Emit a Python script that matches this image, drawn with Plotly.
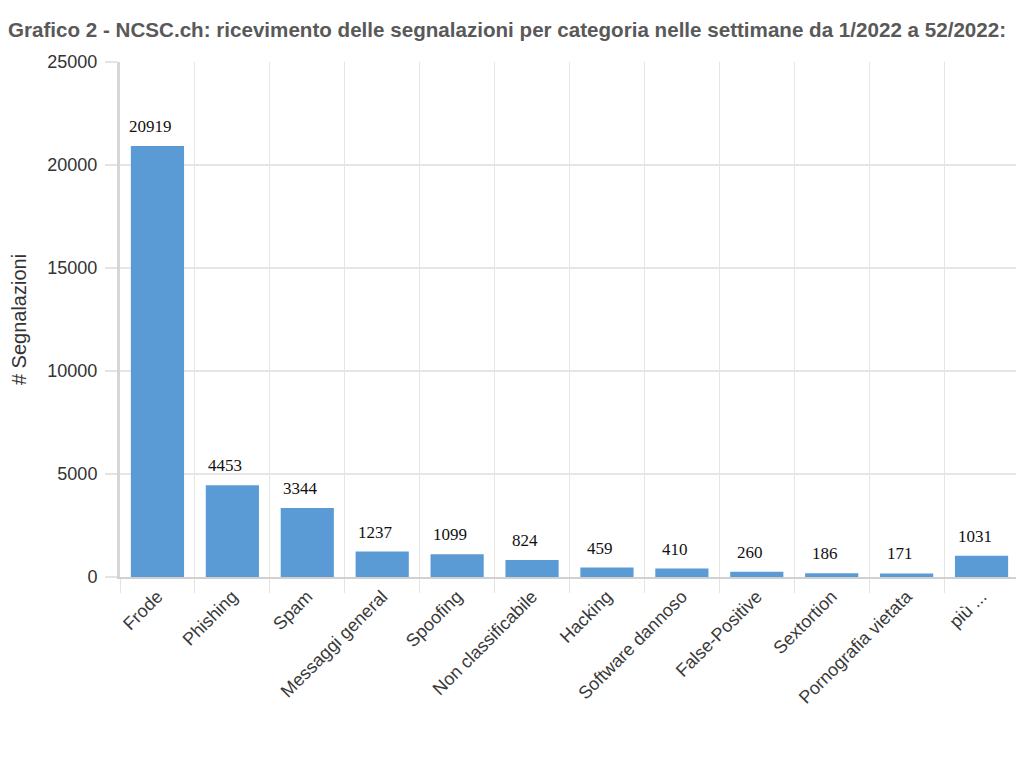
import plotly.graph_objects as go

# Categorie e numero di segnalazioni (settimane 1/2022 - 52/2022)
categorie = ["Frode", "Phishing", "Spam", "Messaggi general", "Spoofing",
             "Non classificabile", "Hacking", "Software dannoso", "False-Positive",
             "Sextortion", "Pornografia vietata", "più ..."]
segnalazioni = [20919, 4453, 3344, 1237, 1099, 824, 459, 410, 260, 186, 171, 1031]

y_ticks = [0, 5000, 10000, 15000, 20000, 25000]

fig = go.Figure(go.Bar(
    x=categorie,
    y=segnalazioni,
    marker=dict(color="#5B9BD5", line=dict(width=0)),
))

# etichette dei valori sopra le barre
for cat, val in zip(categorie, segnalazioni):
    fig.add_annotation(
        x=cat, y=val, text=str(val), showarrow=False,
        yanchor="bottom", yshift=8, xshift=-7,
        font=dict(family="Liberation Serif", size=17, color="#111"),
    )

fig.update_layout(
    width=1016, height=761,
    paper_bgcolor="white", plot_bgcolor="white",
    margin=dict(l=112, r=5, t=54, b=192, autoexpand=False),
    bargap=0.29,
    showlegend=False,
    title=dict(
        text="<b>Grafico 2 - NCSC.ch: ricevimento delle segnalazioni per categoria nelle settimane da 1/2022 a 52/2022:</b>",
        x=0, xanchor="left", y=0.971, yanchor="middle",
        font=dict(family="Liberation Sans", size=20.6, color="#595959"),
    ),
    font=dict(family="Liberation Sans", color="#333"),
)

fig.update_xaxes(
    tickangle=-45,
    tickson="boundaries",
    ticks="outside", ticklen=14, tickcolor="#e3e3e3", tickwidth=1,
    showgrid=True, gridcolor="#e6e6e6", gridwidth=1,
    showline=True, linecolor="#d0d0d0", linewidth=2,
    tickfont=dict(size=18, color="#3a3a3a"),
    automargin=False,
)

fig.update_yaxes(
    range=[0, 25000],
    tickvals=y_ticks,
    ticktext=[str(t) for t in y_ticks],
    ticks="outside", ticklen=12, tickcolor="#e3e3e3", tickwidth=2,
    showgrid=True, gridcolor="#e6e6e6", gridwidth=2,
    zeroline=False,
    showline=True, linecolor="#d6d6d6", linewidth=3,
    tickfont=dict(size=18, color="#333"),
    ticklabelstandoff=4,
    automargin=False,
    title=dict(text="# Segnalazioni", font=dict(size=20, color="#333"), standoff=22),
)

fig.write_html("out.html")
